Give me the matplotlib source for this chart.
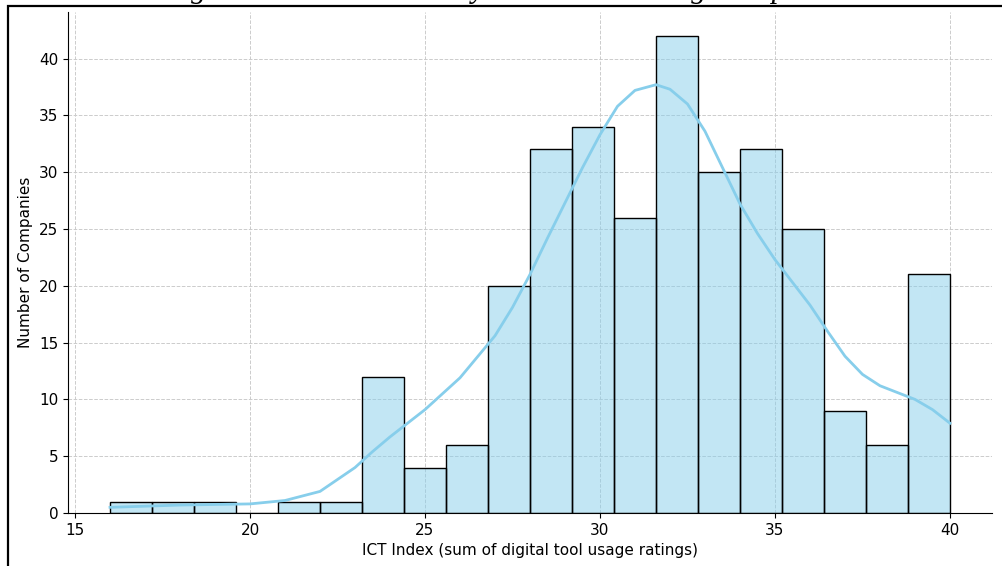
import numpy as np
import matplotlib.pyplot as plt
from matplotlib.patches import Rectangle

# histogram bins (20 bins of width 1.2 from 16 to 40) and counts
bin_edges = [16.0, 17.2, 18.4, 19.6, 20.8, 22.0, 23.2, 24.4, 25.6, 26.8, 28.0,
             29.2, 30.4, 31.6, 32.8, 34.0, 35.2, 36.4, 37.6, 38.8, 40.0]
counts = [1, 1, 1, 0, 1, 1, 12, 4, 6, 20, 32, 34, 26, 42, 30, 32, 25, 9, 6, 21]

# density curve
kde_x = [16, 17, 18, 19, 20, 21, 22, 23, 23.5, 24, 24.5, 25, 26, 27, 27.5,
         28, 28.5, 29, 29.5, 30, 30.5, 31, 31.6, 32, 32.5, 33, 33.5, 34,
         34.5, 35, 36, 36.5, 37, 37.5, 38, 38.5, 39, 39.5, 40]
kde_y = [0.5, 0.6, 0.7, 0.75, 0.8, 1.1, 1.9, 4.0, 5.4, 6.7, 7.9, 9.1, 11.9,
         15.6, 18.1, 21.0, 24.2, 27.3, 30.4, 33.3, 35.8, 37.2, 37.7, 37.3,
         36.0, 33.6, 30.4, 27.2, 24.6, 22.3, 18.3, 16.0, 13.8, 12.2, 11.2,
         10.6, 10.0, 9.1, 7.9]

title = "Histogram: The ICT Index by Sector in Trading Companies"
xlabel = "ICT Index (sum of digital tool usage ratings)"
ylabel = "Number of Companies"

fig = plt.figure(figsize=(10.03, 5.66), dpi=100)
ax = fig.add_axes([68 / 1003, 53 / 566, 924 / 1003, 501 / 566])

widths = np.diff(bin_edges)
ax.bar(bin_edges[:-1], counts, width=widths, align='edge',
       color='skyblue', alpha=0.5, edgecolor='none', zorder=2)
ax.bar(bin_edges[:-1], counts, width=widths, align='edge',
       fill=False, edgecolor='black', linewidth=1, zorder=3)
ax.plot(kde_x, kde_y, color='skyblue', linewidth=2, zorder=4)

ax.grid(True, linestyle='--', color='#cccccc', linewidth=0.7)
ax.set_axisbelow(True)
ax.spines['top'].set_visible(False)
ax.spines['right'].set_visible(False)
ax.set_xticks([15, 20, 25, 30, 35, 40])
ax.set_yticks([0, 5, 10, 15, 20, 25, 30, 35, 40])
ax.tick_params(labelsize=11)
ax.set_xlabel(xlabel, fontsize=11)
ax.set_ylabel(ylabel, fontsize=11)

# title sits above the cropped frame, only its descenders show
fig.text(125 / 1003, 1 + 3.5 / 566, title, ha='left', va='baseline',
         family='Liberation Serif', style='italic', fontsize=22)

frame = Rectangle((8 / 1003, -0.5), 2, 0.5 + 1 - 6 / 566, transform=fig.transFigure,
                  fill=False, edgecolor='black', linewidth=1.6, clip_on=False)
fig.add_artist(frame)

fig.savefig('out.png', dpi=100)
